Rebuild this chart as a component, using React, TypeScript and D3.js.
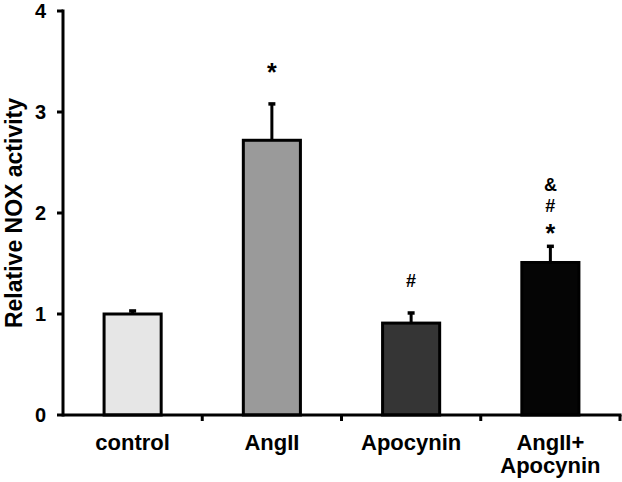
import { useEffect, useRef } from 'react';
import * as d3 from 'd3';

const categories = ['control', 'AngII', 'Apocynin', 'AngII+\nApocynin'];
const means = [1.0, 2.72, 0.91, 1.51];
const errors = [0.04, 0.37, 0.11, 0.17];
const fills = ['#e6e6e6', '#9a9a9a', '#353535', '#050505'];
const yTicks = [0, 1, 2, 3, 4];

// significance marks: category index, symbol, vertical centre in data units
const marks = [
  { cat: 1, sym: '*', y: 3.45 },
  { cat: 2, sym: '#', y: 1.33 },
  { cat: 3, sym: '*', y: 1.85 },
  { cat: 3, sym: '#', y: 2.07 },
  { cat: 3, sym: '&', y: 2.28 },
];

const W = 622;
const H = 482;
const FONT = '"Liberation Sans", Arial, sans-serif';

export default function App() {
  const svgRef = useRef<SVGSVGElement>(null);

  useEffect(() => {
    if (!svgRef.current) return;
    const svg = d3.select(svgRef.current);
    svg.selectAll('*').remove();

    const x0 = 63, x1 = 620, yBase = 415, yTop = 11;

    const x = d3.scaleBand<number>()
      .domain(categories.map((_, i) => i))
      .range([x0, x1])
      .paddingInner(0.59)
      .paddingOuter(0.295);

    const y = d3.scaleLinear().domain([0, 4]).range([yBase, yTop]);

    const g = svg.append('g');

    // bars
    g.selectAll('rect.bar')
      .data(means)
      .enter()
      .append('rect')
      .attr('class', 'bar')
      .attr('x', (_, i) => x(i)!)
      .attr('y', d => y(d))
      .attr('width', x.bandwidth())
      .attr('height', d => yBase - y(d))
      .attr('fill', (_, i) => fills[i])
      .attr('stroke', '#000')
      .attr('stroke-width', 3);

    // error bars (upper only)
    const eg = g.selectAll('g.err').data(means).enter().append('g');
    eg.append('line')
      .attr('x1', (_, i) => x(i)! + x.bandwidth() / 2)
      .attr('x2', (_, i) => x(i)! + x.bandwidth() / 2)
      .attr('y1', d => y(d))
      .attr('y2', (d, i) => y(d + errors[i]))
      .attr('stroke', '#000')
      .attr('stroke-width', 3);
    eg.append('line')
      .attr('x1', (_, i) => x(i)! + x.bandwidth() / 2 - 3.5)
      .attr('x2', (_, i) => x(i)! + x.bandwidth() / 2 + 3.5)
      .attr('y1', (d, i) => y(d + errors[i]) + 1)
      .attr('y2', (d, i) => y(d + errors[i]) + 1)
      .attr('stroke', '#000')
      .attr('stroke-width', 3.5);

    // y axis
    g.append('line')
      .attr('x1', x0).attr('x2', x0)
      .attr('y1', y(4) - 1.5).attr('y2', yBase + 1.5)
      .attr('stroke', '#000').attr('stroke-width', 3);
    g.selectAll('line.ytick')
      .data(yTicks)
      .enter()
      .append('line')
      .attr('x1', x0 - 6).attr('x2', x0)
      .attr('y1', d => y(d)).attr('y2', d => y(d))
      .attr('stroke', '#000').attr('stroke-width', 3);
    g.selectAll('text.ytick')
      .data(yTicks)
      .enter()
      .append('text')
      .attr('x', 46)
      .attr('y', d => y(d) + 7)
      .attr('text-anchor', 'end')
      .attr('font-family', FONT)
      .attr('font-weight', 'bold')
      .attr('font-size', 20)
      .text(d => d);

    // x axis
    g.append('line')
      .attr('x1', x0).attr('x2', x1 + 1.5)
      .attr('y1', yBase).attr('y2', yBase)
      .attr('stroke', '#000').attr('stroke-width', 3);
    const step = x.step();
    g.selectAll('line.xtick')
      .data(categories.map((_, i) => i))
      .enter()
      .append('line')
      .attr('x1', i => x(i)! + x.bandwidth() / 2 + step / 2)
      .attr('x2', i => x(i)! + x.bandwidth() / 2 + step / 2)
      .attr('y1', yBase).attr('y2', yBase + 6)
      .attr('stroke', '#000').attr('stroke-width', 3);

    // category labels
    const lab = g.selectAll('text.xlab')
      .data(categories)
      .enter()
      .append('text')
      .attr('text-anchor', 'middle')
      .attr('font-family', FONT)
      .attr('font-weight', 'bold')
      .attr('font-size', 22);
    lab.each(function (d, i) {
      const cx = x(i)! + x.bandwidth() / 2;
      d.split('\n').forEach((line, k) => {
        d3.select(this).append('tspan')
          .attr('x', cx)
          .attr('y', 450 + k * 23)
          .text(line);
      });
    });

    // y label
    g.append('text')
      .attr('transform', `translate(22,${213}) rotate(-90)`)
      .attr('text-anchor', 'middle')
      .attr('font-family', FONT)
      .attr('font-weight', 'bold')
      .attr('font-size', 23)
      .text('Relative NOX activity');

    // significance marks
    g.selectAll('text.mark')
      .data(marks)
      .enter()
      .append('text')
      .attr('x', d => x(d.cat)! + x.bandwidth() / 2)
      .attr('y', d => y(d.y) + (d.sym === '*' ? 14 : 6.5))
      .attr('text-anchor', 'middle')
      .attr('font-family', FONT)
      .attr('font-weight', 'bold')
      .attr('font-size', d => (d.sym === '*' ? 25 : 18))
      .text(d => d.sym);
  }, []);

  return (
    <svg
      ref={svgRef}
      width={W}
      height={H}
      style={{ position: 'absolute', left: 0, top: 0, background: '#fff' }}
    />
  );
}
